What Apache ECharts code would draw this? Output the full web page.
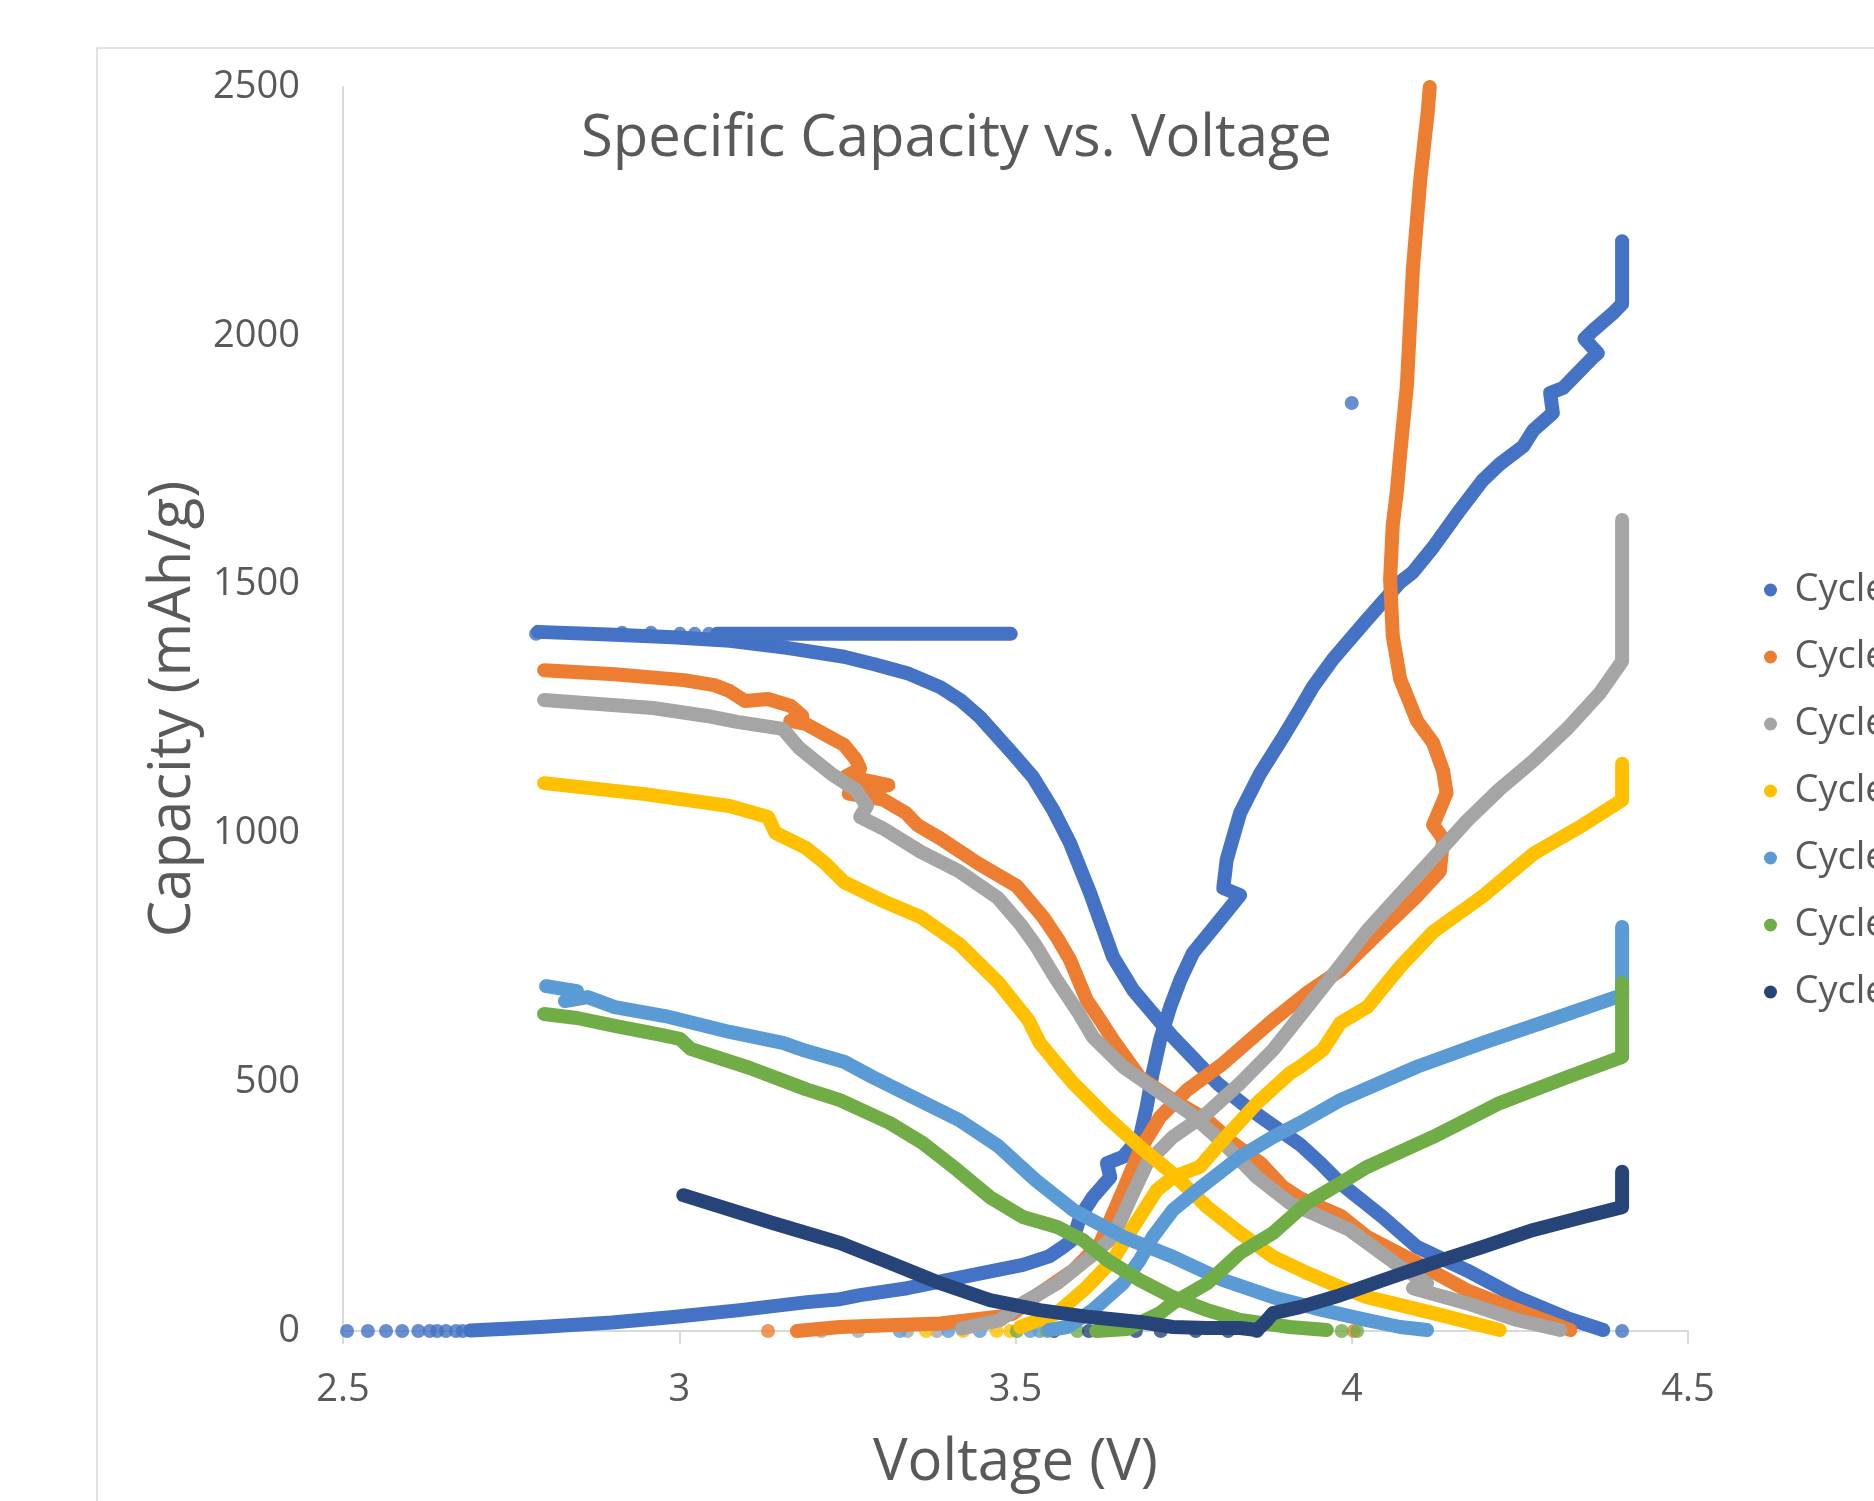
<!DOCTYPE html>
<html>
<head>
<meta charset="utf-8">
<script src="https://cdn.jsdelivr.net/npm/echarts@6/dist/echarts.min.js"></script>
<style>
html,body{margin:0;padding:0;background:#fff;}
#chart{width:1874px;height:1501px;}
</style>
</head>
<body>
<div id="chart"></div>
<script>
// ---------- DATA (Voltage V, Capacity mAh/g) ----------
const cycleNames = ['Cycle 1','Cycle 2','Cycle 3','Cycle 4','Cycle 5','Cycle 6','Cycle 7'];
const cycleColors = ['#4472C4','#ED7D31','#A5A5A5','#FFC000','#5B9BD5','#70AD47','#264478'];
const xTicks = [2.5, 3, 3.5, 4, 4.5];
const yTicks = [0, 500, 1000, 1500, 2000, 2500];

// Cycle 1
const c1Discharge = [[4.374,2],[4.320,26],[4.246,68],[4.171,122],[4.097,169],[4.046,229],[3.983,297],[3.953,338],[3.923,375],[3.844,450],[3.800,498],[3.734,591],[3.675,685],[3.645,752],[3.611,880],[3.581,981],[3.556,1047],[3.526,1113],[3.496,1160],[3.447,1234],[3.418,1268],[3.388,1294],[3.339,1322],[3.290,1340],[3.245,1355],[3.160,1373],[3.075,1387],[2.990,1394],[2.904,1399],[2.790,1405]];
const c1Rest = [[3.056,1401],[3.493,1401]];
const c1Charge = [[2.689,1],[2.750,5],[2.793,8],[2.900,17],[2.991,28],[3.090,42],[3.190,58],[3.239,64],[3.269,72],[3.339,86],[3.437,113],[3.511,133],[3.550,150],[3.571,169],[3.586,185],[3.596,229],[3.615,269],[3.641,309],[3.636,337],[3.660,350],[3.685,390],[3.695,450],[3.704,518],[3.715,585],[3.730,651],[3.745,705],[3.764,760],[3.804,826],[3.834,876],[3.809,890],[3.814,947],[3.834,1041],[3.864,1121],[3.898,1194],[3.923,1250],[3.942,1294],[3.972,1350],[4.023,1430],[4.072,1505],[4.091,1525],[4.121,1575],[4.161,1650],[4.195,1710],[4.220,1742],[4.255,1778],[4.270,1810],[4.299,1845],[4.295,1885],[4.314,1895],[4.359,1957],[4.366,1965],[4.346,1994],[4.359,2011],[4.389,2046],[4.402,2064],[4.402,2190]];
const c1Dots = [[4.402,0],[2.787,1401],[2.915,1403],[2.958,1403],[3.001,1401],[3.023,1401],[3.044,1401],[2.506,0],[2.537,0],[2.564,0],[2.588,0],[2.612,0],[2.629,0],[2.640,0],[2.653,0],[2.668,0],[2.678,0],[4.000,1865]];

// Cycle 2
const c2Discharge = [[2.799,1328],[2.904,1320],[3.007,1308],[3.052,1298],[3.075,1286],[3.098,1266],[3.132,1270],[3.166,1256],[3.183,1236],[3.165,1226],[3.188,1220],[3.223,1194],[3.245,1178],[3.263,1148],[3.269,1130],[3.248,1115],[3.311,1097],[3.252,1080],[3.303,1068],[3.337,1041],[3.354,1017],[3.388,990],[3.444,940],[3.502,894],[3.541,832],[3.562,790],[3.581,746],[3.606,665],[3.626,625],[3.645,585],[3.685,510],[3.734,464],[3.785,424],[3.823,378],[3.864,338],[3.898,289],[3.923,267],[3.983,232],[4.023,189],[4.097,137],[4.171,82],[4.246,42],[4.325,2]];
const c2Charge = [[3.175,0],[3.239,8],[3.300,11],[3.388,15],[3.477,29],[3.496,35],[3.536,76],[3.586,122],[3.626,177],[3.660,283],[3.685,364],[3.715,430],[3.755,484],[3.809,538],[3.883,625],[3.933,679],[3.983,725],[4.046,808],[4.097,874],[4.131,924],[4.136,989],[4.121,1017],[4.141,1081],[4.136,1125],[4.121,1182],[4.097,1226],[4.087,1260],[4.072,1310],[4.061,1397],[4.057,1511],[4.061,1620],[4.067,1686],[4.072,1762],[4.082,1900],[4.091,2136],[4.102,2315],[4.113,2450],[4.116,2500]];
const c2Dots = [[3.132,0],[4.003,0]];

// Cycle 3
const c3Discharge = [[2.799,1268],[2.961,1252],[3.041,1236],[3.086,1224],[3.154,1210],[3.178,1172],[3.200,1148],[3.229,1117],[3.263,1087],[3.279,1055],[3.269,1033],[3.303,1010],[3.359,963],[3.416,924],[3.474,870],[3.507,818],[3.530,775],[3.559,710],[3.593,641],[3.615,591],[3.660,531],[3.710,484],[3.759,438],[3.809,378],[3.859,309],[3.908,257],[3.997,203],[4.072,129],[4.112,96],[4.091,86],[4.171,56],[4.246,22],[4.310,2]];
const c3Charge = [[3.420,5],[3.477,22],[3.511,56],[3.562,96],[3.611,149],[3.645,189],[3.670,263],[3.696,338],[3.734,390],[3.785,438],[3.834,498],[3.883,565],[3.933,650],[3.983,735],[4.023,805],[4.072,878],[4.121,950],[4.171,1025],[4.220,1089],[4.270,1146],[4.320,1210],[4.369,1282],[4.402,1346],[4.402,1630]];
const c3Dots = [[3.211,0],[3.266,0],[3.339,0],[3.383,0]];

// Cycle 4
const c4Discharge = [[2.799,1101],[2.949,1079],[3.075,1055],[3.132,1033],[3.143,1001],[3.188,971],[3.217,940],[3.245,902],[3.303,864],[3.359,832],[3.416,778],[3.474,701],[3.519,625],[3.536,579],[3.559,541],[3.586,498],[3.636,430],[3.685,370],[3.734,316],[3.785,249],[3.834,197],[3.883,149],[3.933,117],[3.983,88],[4.023,68],[4.121,36],[4.220,2]];
const c4Charge = [[3.507,8],[3.562,36],[3.606,88],[3.645,143],[3.675,209],[3.710,283],[3.734,309],[3.774,330],[3.809,384],[3.859,458],[3.908,518],[3.923,531],[3.957,565],[3.983,619],[4.023,651],[4.072,732],[4.121,802],[4.195,874],[4.270,959],[4.344,1017],[4.402,1067],[4.402,1140]];
const c4Dots = [[3.367,0],[3.422,0],[3.472,0],[3.492,0]];

// Cycle 5
const c5Discharge = [[2.802,693],[2.848,683],[2.830,663],[2.864,671],[2.904,651],[2.979,633],[3.075,601],[3.154,579],[3.188,563],[3.245,541],[3.288,510],[3.359,462],[3.416,424],[3.474,372],[3.530,303],[3.586,243],[3.660,189],[3.734,149],[3.809,102],[3.883,68],[3.957,42],[4.023,22],[4.072,8],[4.112,2]];
const c5Charge = [[3.550,2],[3.577,8],[3.615,42],[3.660,96],[3.685,143],[3.704,189],[3.734,243],[3.770,283],[3.834,350],[3.883,390],[3.923,418],[3.983,464],[4.097,531],[4.195,579],[4.295,625],[4.402,675],[4.402,812]];
const c5Dots = [[3.328,0],[3.400,0],[3.447,0],[3.522,0],[3.536,0]];

// Cycle 6
const c6Discharge = [[2.799,637],[2.848,629],[2.904,613],[2.973,595],[3.001,587],[3.017,567],[3.104,529],[3.188,486],[3.239,464],[3.313,418],[3.362,378],[3.413,324],[3.462,269],[3.511,229],[3.562,209],[3.600,183],[3.636,143],[3.685,102],[3.734,68],[3.785,42],[3.834,22],[3.908,8],[3.963,2]];
const c6Charge = [[3.620,0],[3.666,4],[3.715,36],[3.734,56],[3.785,96],[3.834,157],[3.883,197],[3.933,257],[3.983,297],[4.023,330],[4.121,390],[4.220,458],[4.320,510],[4.402,551],[4.402,699]];
const c6Dots = [[3.985,0],[4.008,0],[3.502,0],[3.547,0],[3.592,0]];

// Cycle 7
const c7Discharge = [[3.006,273],[3.139,217],[3.239,177],[3.313,137],[3.388,96],[3.462,62],[3.536,42],[3.611,28],[3.685,18],[3.734,8],[3.785,6],[3.834,6],[3.859,2]];
const c7Charge = [[3.859,2],[3.870,16],[3.883,36],[3.923,48],[3.983,72],[4.046,102],[4.121,137],[4.195,169],[4.270,203],[4.344,229],[4.402,249],[4.402,320]];
const c7Dots = [[3.557,0],[3.609,0],[3.679,0],[3.716,0],[3.768,0],[3.816,0],[3.859,0]];

const cycleLines = [
  [c1Discharge, c1Rest, c1Charge],
  [c2Discharge, c2Charge],
  [c3Discharge, c3Charge],
  [c4Discharge, c4Charge],
  [c5Discharge, c5Charge],
  [c6Discharge, c6Charge],
  [c7Discharge, c7Charge]
];
const cycleDots = [c1Dots, c2Dots, c3Dots, c4Dots, c5Dots, c6Dots, c7Dots];

// ---------- CHART ----------
const FONT = '"Open Sans", "Noto Sans", sans-serif';
const TXT = '#595959';
const TITLE = 'Specific Capacity vs. Voltage';
const TITLE_SIZE = 58;

// measure title to centre it at x = 956
const mctx = document.createElement('canvas').getContext('2d');
mctx.font = TITLE_SIZE + 'px ' + FONT;
const titleW = mctx.measureText(TITLE).width;

const series = [];
cycleNames.forEach((name, i) => {
  const color = cycleColors[i];
  cycleLines[i].forEach(seg => {
    series.push({
      type: 'line', name: name, data: seg,
      showSymbol: false, symbol: 'none', clip: false, silent: true,
      lineStyle: { width: 14, color: color, cap: 'round', join: 'round' },
      itemStyle: { color: color }
    });
  });
  series.push({
    type: 'scatter', name: name, data: cycleDots[i],
    symbolSize: 14, clip: false, silent: true,
    itemStyle: { color: color }
  });
});

const chart = echarts.init(document.getElementById('chart'), null, { renderer: 'canvas' });
chart.setOption({
  animation: false,
  backgroundColor: '#ffffff',
  color: cycleColors,
  title: {
    text: TITLE,
    left: Math.round(956 - titleW / 2), top: 110, padding: 0,
    textStyle: { fontFamily: FONT, fontSize: TITLE_SIZE, fontWeight: 'normal', color: TXT }
  },
  graphic: [{
    type: 'rect', z: -10, silent: true,
    shape: { x: 97, y: 48, width: 1900, height: 1600 },
    style: { fill: 'none', stroke: '#D9D9D9', lineWidth: 1.5 }
  }],
  legend: {
    orient: 'vertical', left: 1759, top: 565,
    itemWidth: 38, itemHeight: 13, itemGap: 27, icon: 'circle',
    data: cycleNames,
    textStyle: { fontFamily: FONT, fontSize: 38, color: TXT, lineHeight: 40 }
  },
  grid: { left: 343, right: 186, top: 87, bottom: 170, containLabel: false },
  xAxis: {
    type: 'value', min: xTicks[0], max: xTicks[xTicks.length - 1], interval: 0.5,
    name: 'Voltage (V)', nameLocation: 'middle', nameGap: 103,
    nameTextStyle: { fontFamily: FONT, fontSize: 58, color: TXT },
    axisLine: { show: true, onZero: false, lineStyle: { color: '#D9D9D9', width: 2 } },
    axisTick: { show: true, inside: false, length: 13, lineStyle: { color: '#D9D9D9', width: 2 } },
    axisLabel: { fontFamily: FONT, fontSize: 38, color: TXT, margin: 40, formatter: v => String(v) },
    splitLine: { show: false }
  },
  yAxis: {
    type: 'value', min: yTicks[0], max: yTicks[yTicks.length - 1], interval: 500,
    name: 'Capacity (mAh/g)', nameLocation: 'middle', nameGap: 139,
    nameTextStyle: { fontFamily: FONT, fontSize: 58, color: TXT },
    axisLine: { show: true, lineStyle: { color: '#D9D9D9', width: 2 } },
    axisTick: { show: false },
    axisLabel: { fontFamily: FONT, fontSize: 38, color: TXT, margin: 43, formatter: v => String(v) },
    splitLine: { show: false }
  },
  series: series
});
</script>
</body>
</html>
